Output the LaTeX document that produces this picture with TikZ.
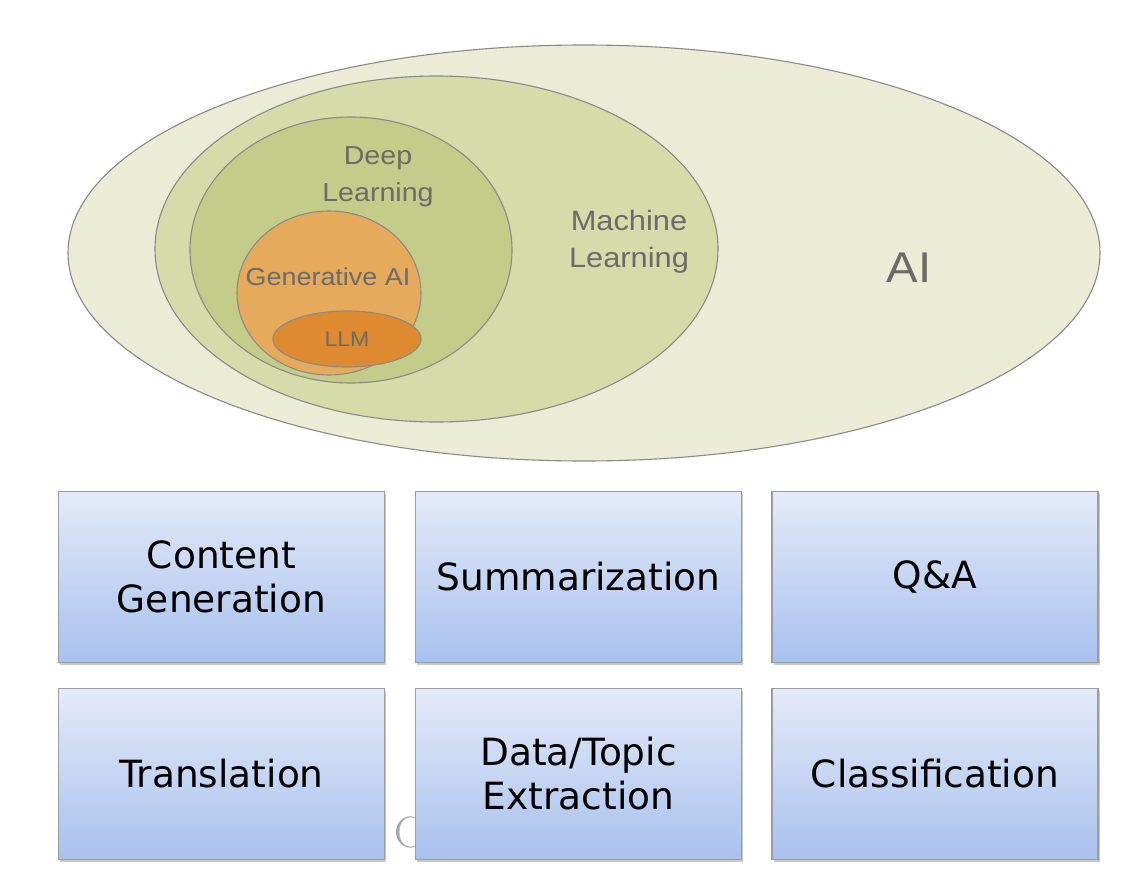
\documentclass[tikz,border=0pt]{standalone}
\usepackage{fontspec}
\setmainfont{Liberation Sans}
\newfontfamily\boxfont{DejaVu Sans}
\newfontfamily\lmfont{Latin Modern Roman}
\usetikzlibrary{shadows}
\definecolor{aifill}{HTML}{EAECD6}
\definecolor{mlfill}{HTML}{D5DBA9}
\definecolor{dlfill}{HTML}{C3CC88}
\definecolor{genfill}{HTML}{E5AA5C}
\definecolor{llmfill}{HTML}{DE8A30}
\definecolor{edgegray}{HTML}{8A8A8A}
\definecolor{labelgray}{HTML}{6B6B6B}
\definecolor{boxtop}{HTML}{E4EAF8}
\definecolor{boxbot}{HTML}{A8C1ED}
\definecolor{boxedge}{HTML}{9C9C9C}
\tikzset{
  setblob/.style={draw=edgegray, line width=1.1pt},
  setlabel/.style={text=labelgray, inner sep=0pt, anchor=base, xscale=1.1},
  taskbox/.style={rectangle, draw=boxedge, line width=1.2pt,
    top color=boxtop, bottom color=boxbot,
    minimum width=326pt, minimum height=171pt, inner sep=0pt,
    align=center, font=\boxfont\fontsize{37.5}{44}\selectfont,
    drop shadow={shadow xshift=1.5pt, shadow yshift=-2pt, opacity=0.35, fill=black!60}}
}
\begin{document}
\begin{tikzpicture}[x=1pt,y=-1pt]
\useasboundingbox (0,0) rectangle (1128,888);
\fill[white] (0,0) rectangle (1128,888);
% nested sets
\draw[setblob, fill=aifill] (584,253) ellipse [x radius=516, y radius=208];
\draw[setblob, fill=mlfill] (436.5,249) ellipse [x radius=281.5, y radius=173];
\draw[setblob, fill=dlfill] (351,250) ellipse [x radius=161, y radius=133];
\draw[setblob, fill=genfill] (329,293) ellipse [x radius=92, y radius=82];
\draw[setblob, fill=llmfill] (347,339) ellipse [x radius=74, y radius=28];
% labels
\node[setlabel, font=\fontsize{43}{50}\selectfont, xscale=1] (ai) at (909,282) {AI};
\node[setlabel, font=\fontsize{28}{36}\selectfont] (ml1) at (629,230) {Machine};
\node[setlabel, font=\fontsize{28}{36}\selectfont] (ml2) at (629,267) {Learning};
\node[setlabel, font=\fontsize{26}{36}\selectfont] (dl1) at (378,165) {Deep};
\node[setlabel, font=\fontsize{26}{36}\selectfont] (dl2) at (378,202) {Learning};
\node[setlabel, font=\fontsize{24.5}{30}\selectfont] (gen) at (328,285) {Generative AI};
\node[setlabel, font=\fontsize{21}{26}\selectfont] (llm) at (347,346) {LLM};
% stray letter partly hidden behind a box
\node[text=black!35, inner sep=0pt, anchor=base west, font=\lmfont\fontsize{44}{50}\selectfont] (stray) at (394,847) {C};
% task boxes
\node[taskbox] (content) at (221.5,577) {Content\\Generation};
\node[taskbox] (summ) at (578.5,577) {Summarization};
\node[taskbox] (qa) at (935,577) {Q\&A};
\node[taskbox] (trans) at (221.5,774) {Translation};
\node[taskbox] (extract) at (578.5,774) {Data/Topic\\Extraction};
\node[taskbox] (class) at (935,774) {Classification};
\end{tikzpicture}
\end{document}
